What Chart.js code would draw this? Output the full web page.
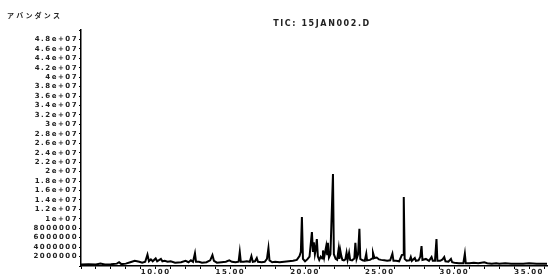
<!DOCTYPE html>
<html><head><meta charset="utf-8">
<style>html,body{margin:0;padding:0;background:#fff}#wrap{width:548px;height:275px}</style>
<script src="https://cdn.jsdelivr.net/npm/chart.js@4/dist/chart.umd.min.js"></script>
</head>
<body><div id="wrap"><canvas id="c" width="548" height="275"></canvas></div>
<script>
const chartTitle = 'TIC: 15JAN002.D';
const yAxisTitle = 'アバンダンス';
// retention time (min)
const retentionTimes = [
 5.0,5.5,6.0,6.3,6.6,7.0,7.4,7.55,7.7,8.0,8.3,8.6,8.9,9.1,9.3,9.45,9.55,9.68,9.8,10.0,10.1,10.35,10.45,10.6,10.8,11.0,11.3,11.7,12.0,12.2,12.36,12.5,12.63,12.7,12.9,13.1,13.4,13.65,13.8,13.9,14.1,14.4,14.7,14.93,15.1,15.35,15.55,15.63,15.7,15.9,16.1,16.3,16.41,16.5,16.65,16.77,16.85,17.1,17.3,17.45,17.55,17.62,17.8,18.0,18.3,18.6,18.9,19.2,19.45,19.63,19.72,19.79,19.86,20.0,20.15,20.3,20.46,20.53,20.59,20.66,20.72,20.79,20.86,20.95,21.05,21.15,21.2,21.28,21.42,21.48,21.53,21.6,21.7,21.76,21.87,21.93,22.05,22.15,22.25,22.3,22.36,22.43,22.5,22.6,22.7,22.78,22.85,22.95,23.02,23.15,23.3,23.37,23.45,23.55,23.64,23.7,23.85,24.0,24.1,24.15,24.35,24.5,24.55,24.65,24.8,24.95,25.1,25.3,25.5,25.7,25.85,25.92,26.1,26.3,26.48,26.56,26.61,26.67,26.8,27.0,27.08,27.15,27.35,27.42,27.6,27.72,27.8,27.86,28.09,28.3,28.47,28.55,28.7,28.8,28.86,29.05,29.21,29.32,29.4,29.6,29.77,29.85,30.0,30.3,30.6,30.7,30.76,31.0,31.3,31.6,32.0,32.2,32.5,32.8,33.0,33.4,33.8,34.2,34.6,35.0,35.5,36.2
];
// abundance (millions of counts)
const abundanceMillions = [
 0.3,0.35,0.3,0.5,0.3,0.35,0.5,0.8,0.4,0.5,0.8,1.1,0.9,0.7,0.9,2.4,1.0,1.4,1.0,1.6,1.0,1.5,1.0,1.1,0.9,1.0,0.7,0.8,1.1,0.8,1.2,0.9,2.7,0.9,0.9,0.7,0.8,1.2,2.3,1.1,0.7,0.8,0.9,1.2,0.9,0.8,0.9,3.0,0.9,0.9,1.0,0.9,2.1,0.9,1.0,1.7,0.9,0.8,0.9,1.5,3.8,1.2,0.8,0.9,0.8,0.9,1.0,1.1,1.3,2.1,3.0,10.4,1.5,1.0,1.4,2.0,7.2,3.0,5.0,2.5,3.5,5.7,2.0,1.3,2.0,1.6,3.3,1.8,4.2,2.5,4.9,1.8,2.5,8.4,19.5,2.5,1.5,1.3,3.6,1.5,3.3,2.1,1.3,1.2,1.4,2.8,1.3,2.8,1.3,1.2,1.6,4.9,1.5,2.5,7.9,1.5,1.2,1.1,2.6,1.2,1.3,1.6,2.8,1.7,1.8,1.4,1.3,1.2,1.1,1.2,2.6,1.1,1.1,1.0,2.3,2.4,14.6,1.5,1.1,1.2,1.9,1.1,1.7,1.1,1.2,2.0,4.2,1.3,1.5,1.1,1.9,1.1,1.1,5.7,1.1,1.1,1.4,1.9,1.0,0.9,1.5,0.8,0.7,0.6,0.6,2.6,0.6,0.6,0.7,0.6,0.8,0.6,0.5,0.6,0.5,0.6,0.5,0.5,0.5,0.6,0.5,0.5
];
const xMajorLabels = [10, 15, 20, 25, 30, 35];
const xMinorTicks = [5,6,7,8,9,10,11,12,13,14,15,16,17,18,19,20,21,22,23,24,25,26,27,28,29,30,31,32,33,34,35,36];
const yTickStep = 2000000;

const points = retentionTimes.map((t, i) => ({x: t, y: abundanceMillions[i] * 1e6}));
const FONT = 'DejaVu Sans';

const textPlugin = {
  id: 'texts',
  beforeDraw(chart) { chart.ctx.letterSpacing = '1.5px'; },
  afterDraw(chart) {
    const ctx = chart.ctx;
    ctx.save();
    ctx.fillStyle = '#222';
    ctx.textBaseline = 'middle';
    ctx.letterSpacing = '1.6px';
    ctx.font = 'bold 8px "' + FONT + '"';
    ctx.textAlign = 'center';
    ctx.fillText(chartTitle, 322, 24);
    ctx.letterSpacing = '2.2px';
    ctx.font = 'bold 7px "Noto Sans CJK JP"';
    ctx.textAlign = 'left';
    ctx.fillText(yAxisTitle, 7, 15);
    ctx.restore();
    ctx.letterSpacing = '0px';
  }
};

new Chart(document.getElementById('c'), {
  type: 'line',
  data: { datasets: [{ data: points, borderColor: '#000', borderWidth: 2, pointRadius: 0, tension: 0, fill: false }] },
  options: {
    responsive: false, animation: false, devicePixelRatio: 1,
    layout: { padding: { top: 30, right: 1, left: 0, bottom: 0 } },
    plugins: { legend: { display: false }, tooltip: { enabled: false }, title: { display: false } },
    scales: {
      x: {
        type: 'linear', min: 5, max: 36.2,
        afterBuildTicks: s => { s.ticks = xMinorTicks.map(v => ({ value: v })); },
        afterFit: s => { s.height = 9; },
        ticks: {
          autoSkip: false, maxRotation: 0, padding: -1, color: '#222',
          font: { family: FONT, size: 7, weight: 'bold' },
          callback: v => xMajorLabels.includes(v) ? v.toFixed(2) : ''
        },
        grid: { drawOnChartArea: false, tickLength: 3, color: '#000' },
        border: { color: '#000', width: 1.5 }
      },
      y: {
        min: 0, max: 50000000,
        afterFit: s => { s.width = 81; },
        ticks: {
          stepSize: yTickStep, autoSkip: false, padding: 1, color: '#222',
          font: { family: FONT, size: 7, weight: 'bold' },
          callback: v => (v === 0 || v >= 50000000) ? '' : (v >= 10000000 ? (v / 10000000) + 'e+07' : String(v))
        },
        grid: { drawOnChartArea: false, tickLength: 2, color: '#000' },
        border: { color: '#000', width: 1.5 }
      }
    }
  },
  plugins: [textPlugin]
});
</script>
</body></html>
